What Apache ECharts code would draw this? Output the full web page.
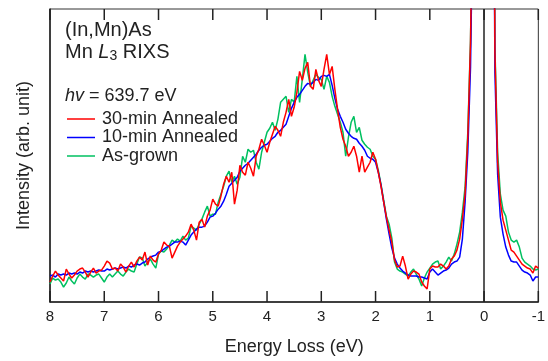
<!DOCTYPE html>
<html>
<head>
<meta charset="utf-8">
<script src="https://cdn.jsdelivr.net/npm/echarts@6/dist/echarts.min.js"></script>
<style>
html,body{margin:0;padding:0;background:#fff;}
#chart{width:548px;height:361px;}
</style>
</head>
<body>
<div id="chart"></div>
<script>
// Energy loss (eV)
var energy = [
8, 7.95, 7.9, 7.85, 7.8, 7.75, 7.7, 7.65, 7.6, 7.55,
7.5, 7.45, 7.4, 7.35, 7.3, 7.25, 7.2, 7.15, 7.1, 7.05,
7, 6.95, 6.9, 6.85, 6.8, 6.75, 6.7, 6.65, 6.6, 6.55,
6.5, 6.45, 6.4, 6.35, 6.3, 6.25, 6.2, 6.15, 6.1, 6.05,
6, 5.95, 5.9, 5.85, 5.8, 5.75, 5.7, 5.65, 5.6, 5.55,
5.5, 5.45, 5.4, 5.35, 5.3, 5.25, 5.2, 5.15, 5.1, 5.05,
5, 4.95, 4.9, 4.85, 4.8, 4.75, 4.7, 4.65, 4.6, 4.55,
4.5, 4.45, 4.4, 4.35, 4.3, 4.25, 4.2, 4.15, 4.1, 4.05,
4, 3.95, 3.9, 3.85, 3.8, 3.75, 3.7, 3.65, 3.6, 3.55,
3.5, 3.45, 3.4, 3.35, 3.3, 3.25, 3.2, 3.15, 3.1, 3.05,
3, 2.95, 2.9, 2.85, 2.8, 2.75, 2.7, 2.65, 2.6, 2.55,
2.5, 2.45, 2.4, 2.35, 2.3, 2.25, 2.2, 2.15, 2.1, 2.05,
2, 1.95, 1.9, 1.85, 1.8, 1.75, 1.7, 1.65, 1.6, 1.55,
1.5, 1.45, 1.4, 1.35, 1.3, 1.25, 1.2, 1.15, 1.1, 1.05,
1, 0.95, 0.9, 0.85, 0.8, 0.75, 0.7, 0.65, 0.6, 0.55,
0.5, 0.45, 0.4, 0.35, 0.3, 0.25, 0.2, 0.15, 0.1, 0.05,
0, -0.05, -0.1, -0.15, -0.2, -0.25, -0.3, -0.35, -0.4, -0.45,
-0.5, -0.55, -0.6, -0.65, -0.7, -0.75, -0.8, -0.85, -0.9, -0.95,
-1
];

// 30-min Annealed (red)
var annealed30 = [
20, 26, 31, 27, 24, 21, 33, 28, 24, 27,
31, 33, 34, 30, 25, 30, 34, 29, 31, 32,
36, 41, 39, 33, 34, 31, 38, 35, 30, 36,
40, 35, 41, 45, 42, 50, 37, 46, 42, 40,
48, 52, 60, 57, 56, 44, 50, 56, 60, 63,
66, 70, 78, 72, 62, 80, 83, 75, 86, 92,
103, 98, 96, 106, 118, 126, 120, 130, 98, 112,
137, 130, 127, 140, 134, 126, 146, 153, 163, 157,
150, 160, 168, 176, 172, 166, 180, 190, 203, 186,
195, 210, 231, 222, 234, 240, 216, 213, 233, 222,
216, 233, 248, 228, 236, 213, 193, 175, 163, 156,
146, 150, 156, 146, 130, 146, 130, 135, 140, 150,
143, 130, 116, 100, 85, 72, 60, 42, 35, 36,
46, 36, 23, 28, 31, 30, 28, 20, 16, 13,
33, 36, 35, 35, 38, 36, 33, 36, 43, 46,
52, 63, 83, 108, 165, 260, 450, 750, 1150, 1550,
1750, 1650, 1250, 750, 250, 140, 100, 82, 72, 62,
52, 50, 46, 42, 38, 36, 34, 33, 29, 36,
34
];

// 10-min Annealed (blue)
var annealed10 = [
26, 27, 25, 28, 27, 28, 27, 29, 28, 29,
28, 30, 29, 31, 30, 31, 30, 31, 32, 31,
31, 33, 32, 33, 34, 33, 34, 35, 34, 36,
35, 37, 38, 37, 39, 40, 43, 45, 46, 47,
50, 51, 53, 55, 56, 58, 60, 60, 61, 60,
57, 62, 67, 70, 73, 75, 75, 76, 80, 85,
86, 89, 93, 96, 101, 108, 116, 119, 122, 125,
131, 134, 137, 139, 142, 145, 148, 152, 155, 157,
158, 161, 164, 166, 170, 172, 175, 178, 186, 194,
200, 205, 208, 212, 216, 219, 218, 220, 223, 222,
226, 227, 226, 228, 217, 204, 193, 186, 180, 173,
169, 166, 164, 163, 159, 156, 152, 146, 144, 143,
140, 130, 117, 100, 83, 68, 54, 44, 38, 34,
31, 29, 27, 26, 26, 26, 25, 25, 24, 23,
30, 33, 30, 27, 29, 31, 32, 34, 38, 40,
41, 45, 63, 100, 150, 235, 420, 700, 1100, 1500,
1700, 1600, 1200, 700, 230, 128, 85, 68, 55, 47,
41, 40, 40, 36, 32, 30, 29, 27, 21, 25,
25
];

// As-grown (green)
var asGrown = [
18, 24, 22, 23, 20, 15, 19, 25, 21, 18,
24, 28, 25, 23, 28, 27, 25, 27, 28, 24,
20, 25, 28, 25, 28, 31, 28, 26, 30, 33,
31, 30, 38, 45, 44, 36, 40, 43, 38, 34,
48, 51, 50, 53, 57, 62, 60, 63, 61, 66,
62, 64, 76, 74, 72, 78, 83, 90, 96, 86,
88, 88, 100, 108, 116, 126, 131, 120, 126, 118,
125, 146, 140, 153, 150, 152, 140, 133, 150, 160,
170, 174, 180, 172, 183, 200, 203, 206, 190, 203,
200, 226, 200, 223, 248, 230, 216, 222, 228, 225,
223, 213, 226, 220, 206, 196, 188, 180, 170, 146,
165, 180, 186, 170, 175, 162, 158, 155, 153, 146,
143, 132, 118, 102, 86, 78, 64, 40, 33, 31,
30, 28, 26, 30, 33, 28, 23, 16, 24, 30,
34, 38, 40, 41, 33, 36, 40, 45, 41, 48,
58, 70, 90, 115, 170, 262, 450, 750, 1150, 1550,
1750, 1650, 1250, 750, 255, 150, 108, 92, 86, 70,
62, 60, 62, 55, 44, 40, 38, 36, 33, 32,
33
];

var seriesNames = ['30-min Annealed', '10-min Annealed', 'As-grown'];
var xTicks = [8, 7, 6, 5, 4, 3, 2, 1, 0, -1];
var yMin = 0, yMax = 293.5;

function pairs(vals) {
  return energy.map(function (e, i) { return [e, vals[i]]; });
}

var FONT = '"Liberation Sans", Arial, Helvetica, sans-serif';
var AX = '#222';
var TICK_LEN = 11;

var annotations = [
  {
    type: 'text', left: 65, top: 20, silent: true,
    style: {
      text: '{a|(In,Mn)As}\n{a|Mn }{i|L}{s|3}{a| RIXS}',
      fill: AX,
      rich: {
        a: {fontSize: 20, lineHeight: 22, fontFamily: FONT, fill: AX},
        i: {fontSize: 20, lineHeight: 22, fontStyle: 'italic', fontFamily: FONT, fill: AX},
        s: {fontSize: 14, lineHeight: 10, verticalAlign: 'bottom', fontFamily: FONT, fill: AX}
      }
    }
  },
  {
    type: 'text', left: 65, top: 87, silent: true,
    style: {
      text: '{i|hv}{a| = 639.7 eV}',
      fill: AX,
      rich: {
        a: {fontSize: 18, lineHeight: 18, fontFamily: FONT, fill: AX},
        i: {fontSize: 18, lineHeight: 18, fontStyle: 'italic', fontFamily: FONT, fill: AX}
      }
    }
  }
];

var chart = echarts.init(document.getElementById('chart'), null, {renderer: 'canvas'});

var option = {
  animation: false,
  backgroundColor: '#fff',
  textStyle: {fontFamily: FONT},
  grid: {left: 50, right: 8, top: 9, bottom: 58, show: true, borderColor: '#333', borderWidth: 1, backgroundColor: 'transparent'},
  xAxis: [
    {
      type: 'value', inverse: true, min: -1, max: 8, interval: 1, position: 'bottom',
      name: 'Energy Loss (eV)', nameLocation: 'middle', nameGap: 36,
      nameTextStyle: {fontSize: 18, color: AX, fontFamily: FONT},
      axisLine: {show: true, lineStyle: {color: AX, width: 1.5}},
      axisTick: {show: false},
      axisLabel: {show: true, fontSize: 15, color: AX, margin: 7, fontFamily: FONT,
        formatter: function (v) { return xTicks.indexOf(v) >= 0 ? String(v) : ''; }},
      splitLine: {show: false}
    }
  ],
  yAxis: [
    {
      type: 'value', min: yMin, max: yMax, position: 'left',
      name: 'Intensity (arb. unit)', nameLocation: 'middle', nameGap: 17,
      nameTextStyle: {fontSize: 18, color: AX, fontFamily: FONT},
      axisLine: {show: true, onZero: false, lineStyle: {color: AX, width: 1.5}},
      axisTick: {show: false},
      axisLabel: {show: false},
      splitLine: {show: false}
    }
  ],
  legend: {
    orient: 'vertical', left: 67, top: 110, padding: 0,
    itemWidth: 28, itemHeight: 1.5, itemGap: 0.5, icon: 'rect',
    data: seriesNames,
    textStyle: {fontSize: 18, color: AX, fontFamily: FONT, lineHeight: 18, padding: [0, 0, 0, 2]}
  },
  graphic: annotations,
  series: [
    {
      name: 'As-grown', type: 'line', data: pairs(asGrown), showSymbol: false, symbol: 'none',
      lineStyle: {color: '#00c060', width: 1.5}, itemStyle: {color: '#00c060'}, clip: true,
      markLine: {
        silent: true, symbol: ['none', 'none'], label: {show: false},
        lineStyle: {color: AX, width: 1.5, type: 'solid'},
        emphasis: {disabled: true},
        data: [{xAxis: 0}]
      }
    },
    {
      name: '10-min Annealed', type: 'line', data: pairs(annealed10), showSymbol: false, symbol: 'none',
      lineStyle: {color: '#0000ff', width: 1.5}, itemStyle: {color: '#0000ff'}, clip: true
    },
    {
      name: '30-min Annealed', type: 'line', data: pairs(annealed30), showSymbol: false, symbol: 'none',
      lineStyle: {color: '#ff0000', width: 1.5}, itemStyle: {color: '#ff0000'}, clip: true
    }
  ]
};
chart.setOption(option);

// inward tick marks on the bottom and top frame edges, positioned through the chart's x scale
var tickLines = [];
xTicks.forEach(function (v) {
  var pb = chart.convertToPixel({xAxisIndex: 0, yAxisIndex: 0}, [v, yMin]);
  var pt = chart.convertToPixel({xAxisIndex: 0, yAxisIndex: 0}, [v, yMax]);
  tickLines.push({
    type: 'line', silent: true, z: 100,
    shape: {x1: pb[0], y1: pb[1], x2: pb[0], y2: pb[1] - TICK_LEN},
    style: {stroke: AX, lineWidth: 1.5}
  });
  tickLines.push({
    type: 'line', silent: true, z: 100,
    shape: {x1: pt[0], y1: pt[1], x2: pt[0], y2: pt[1] + TICK_LEN},
    style: {stroke: AX, lineWidth: 1.5}
  });
});
chart.setOption({graphic: annotations.concat(tickLines)});
</script>
</body>
</html>
